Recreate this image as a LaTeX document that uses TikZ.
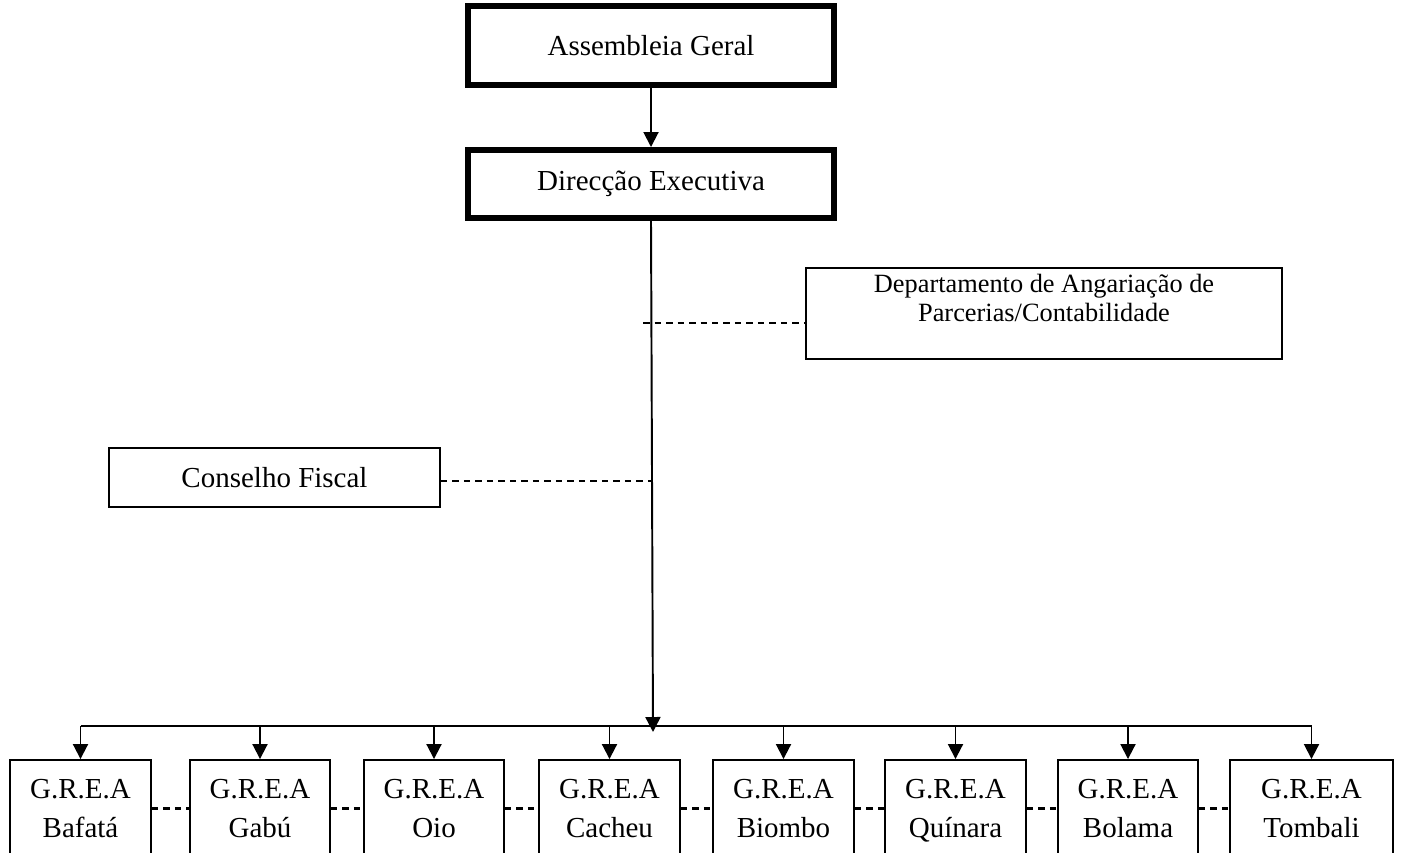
\documentclass[tikz,border=0pt]{standalone}
\usepackage{fontspec}
\setmainfont{Liberation Serif}
\usetikzlibrary{arrows.meta,positioning}

\begin{document}
\begin{tikzpicture}[x=0.02cm,y=-0.02cm,
  every node/.style={draw,rectangle,align=center,inner sep=0pt,
    line width=1.1pt,font=\fontsize{16.5}{22}\selectfont},
  thickbox/.style={line width=3.4pt},
  arr/.style={-{Triangle[length=0.3cm,width=0.3cm]},line width=1.1pt},
  link/.style={line width=1.2pt,dash pattern=on 0.13cm off 0.1cm}]

  \useasboundingbox (0,0) rectangle (1402,852);
  \clip (0,0) rectangle (1402,852);

  % Top boxes
  \node[thickbox,minimum width=7.32cm,minimum height=1.58cm] (ag) at (651,45.5) {Assembleia Geral};
  \node[thickbox,minimum width=7.32cm,minimum height=1.36cm] (de) at (651,184) {Direcção Executiva};
  \draw[arr] (ag.south) -- (de.north);

  % Side boxes
  \node[anchor=north,minimum width=9.52cm,inner ysep=0.12cm,
    font=\fontsize{15}{16.5}\selectfont] (dp) at (1044,267)
    {Departamento de Angariação de\\Parcerias/Contabilidade\rule[-18pt]{0pt}{18pt}};
  \node[minimum width=6.62cm,minimum height=1.18cm] (cf) at (274.5,477.5) {Conselho Fiscal};

  % Regional boxes
  \foreach \i/\x/\w/\name in {1/80.5/2.82/Bafatá, 2/260/2.80/Gabú, 3/434/2.80/Oio,
    4/609.5/2.82/Cacheu, 5/783.5/2.82/Biombo, 6/955.5/2.82/Quínara,
    7/1128/2.80/Bolama, 8/1311.5/3.26/Tombali} {
    \node[minimum width=\w cm,minimum height=1.94cm,text depth=0pt] (g\i) at (\x,808.5) {G.R.E.A\\\name};
  }

  % Main line and bus
  \coordinate (bus) at (653,732);
  \coordinate (busl) at (0,726);
  \draw[arr] (de.south) -- (bus);
  \draw[line width=1.1pt] (g1.north |- busl) -- (g8.north |- busl);
  \foreach \i in {1,...,8} {
    \draw[arr] (g\i.north |- busl) -- (g\i.north);
  }

  % Dashed links
  \coordinate (dpj) at (643,323);
  \coordinate (cfj) at (652,481);
  \draw[link] (dpj) -- (dpj -| dp.west);
  \draw[link] (cf.east |- cfj) -- (cfj);
  \foreach \i [count=\j from 2] in {1,...,7} {
    \draw[link] (g\i.east) -- (g\j.west);
  }
\end{tikzpicture}
\end{document}
